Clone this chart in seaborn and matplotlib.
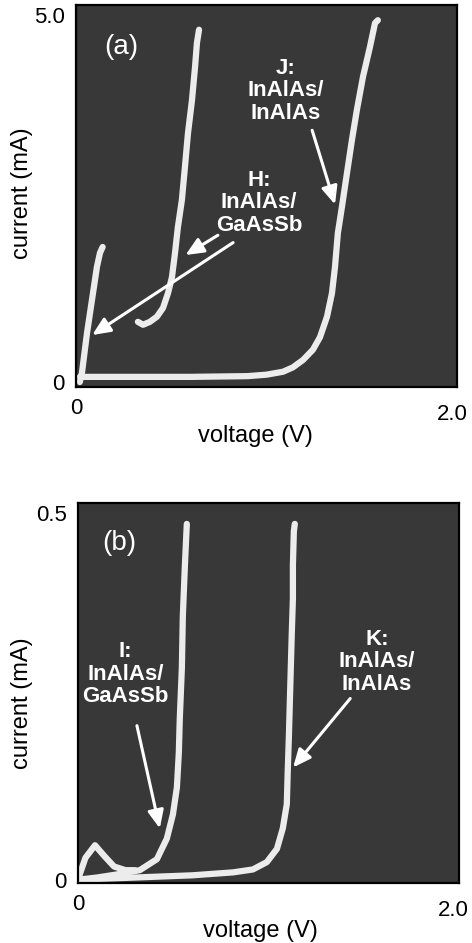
import numpy as np
import pandas as pd
import matplotlib
matplotlib.use("Agg")
import matplotlib.pyplot as plt
import matplotlib.transforms as mtransforms
import seaborn as sns

# ---------------- data ----------------
# Panel (a): current in mA, voltage in V
J_a_V = [0.02, 0.30, 0.60, 0.90, 1.00, 1.087, 1.139, 1.192, 1.244, 1.281, 1.318,
         1.344, 1.360, 1.375, 1.396, 1.423, 1.449, 1.475, 1.507, 1.543, 1.570, 1.585]
J_a_I = [0.07, 0.07, 0.07, 0.08, 0.10, 0.14, 0.20, 0.30, 0.44, 0.61, 0.89,
         1.21, 1.57, 2.03, 2.38, 2.85, 3.30, 3.71, 4.16, 4.56, 4.89, 4.93]

H1_a_V = [0.02, 0.031, 0.058, 0.084, 0.110, 0.126, 0.140]
H1_a_I = [0.00, 0.12, 0.67, 1.12, 1.57, 1.76, 1.84]

H2_a_V = [0.325, 0.352, 0.388, 0.425, 0.457, 0.483, 0.504, 0.520, 0.535,
          0.556, 0.572, 0.588, 0.609, 0.625, 0.635, 0.646]
H2_a_I = [0.82, 0.78, 0.82, 0.89, 1.01, 1.21, 1.43, 1.76, 2.11,
          2.48, 2.93, 3.39, 3.84, 4.29, 4.62, 4.80]

# Panel (b)
I_loop_V = [0.00, 0.04, 0.09, 0.14, 0.19, 0.25, 0.30]
I_loop_I = [0.000, 0.030, 0.047, 0.032, 0.018, 0.013, 0.013]

I_b_V = [0.00, 0.10, 0.20, 0.325, 0.415, 0.467, 0.499, 0.520, 0.530, 0.535,
         0.546, 0.551, 0.562, 0.572]
I_b_I = [0.000, 0.003, 0.007, 0.013, 0.028, 0.056, 0.089, 0.126, 0.173, 0.219,
         0.289, 0.359, 0.429, 0.485]

K_b_V = [0.00, 0.30, 0.60, 0.814, 0.919, 0.992, 1.045, 1.076, 1.097, 1.102,
         1.108, 1.113, 1.118, 1.123, 1.129, 1.129, 1.134, 1.139]
K_b_I = [0.000, 0.003, 0.006, 0.010, 0.014, 0.024, 0.042, 0.070, 0.103, 0.149,
         0.196, 0.243, 0.289, 0.335, 0.383, 0.429, 0.475, 0.485]

xticks = [0, 2.0]
xtick_labels = ["0", "2.0"]
yticks_a = [0, 5.0]
ytick_labels_a = ["0", "5.0"]
yticks_b = [0, 0.5]
ytick_labels_b = ["0", "0.5"]

# ---------------- styling ----------------
sns.set_theme(style="white")
plt.rcParams["font.family"] = ["Liberation Sans", "DejaVu Sans"]

BG = "#383838"
CURVE = "#ececec"
FS_TICK = 16
FS_LAB = 17
FS_ANN = 16

fig = plt.figure(figsize=(4.72, 9.43), dpi=100)
fig.patch.set_facecolor("white")

ax_a = fig.add_axes([0.161, 0.5896, 0.807, 0.405])
ax_b = fig.add_axes([0.165, 0.0636, 0.807, 0.403])


def seg_df(segs):
    rows = []
    for k, (vv, ii) in enumerate(segs):
        for v, i in zip(vv, ii):
            rows.append({"V": v, "I": i, "seg": k})
    return pd.DataFrame(rows)


def draw(ax, segs, ylim, yticks, ylabels):
    ax.set_facecolor(BG)
    df = seg_df(segs)
    sns.lineplot(data=df, x="V", y="I", units="seg", estimator=None, sort=False,
                 color=CURVE, lw=4.5, ax=ax, legend=False,
                 solid_capstyle="round", solid_joinstyle="round")
    ax.set_xlim(0, 2.0)
    ax.set_ylim(*ylim)
    ax.set_xticks(xticks, xtick_labels)
    ax.set_yticks(yticks, ylabels)
    ax.tick_params(axis="both", length=0, labelsize=FS_TICK, colors="black")
    ax.tick_params(axis="x", pad=8)
    ax.tick_params(axis="y", pad=8)
    for s in ax.spines.values():
        s.set_color("black")
        s.set_linewidth(1.6)
    ax.set_xlabel("voltage (V)", fontsize=FS_LAB, color="black")
    ax.set_ylabel("current (mA)", fontsize=FS_LAB, color="black")
    ax.grid(False)


draw(ax_a, [(J_a_V, J_a_I), (H1_a_V, H1_a_I), (H2_a_V, H2_a_I)],
     (-0.068, 5.136), yticks_a, ytick_labels_a)
draw(ax_b, [(I_loop_V, I_loop_I), (I_b_V, I_b_I), (K_b_V, K_b_I)],
     (-0.0045, 0.5135), yticks_b, ytick_labels_b)

ax_a.xaxis.set_label_coords(0.472, -0.099)
ax_a.yaxis.set_label_coords(-0.113, 0.508)
ax_b.xaxis.set_label_coords(0.478, -0.098)
ax_b.yaxis.set_label_coords(-0.118, 0.474)

# shift the "2.0" tick labels slightly lower/left like the scan
shift = mtransforms.ScaledTranslation(-5 / 100, -6 / 100, fig.dpi_scale_trans)
for ax in (ax_a, ax_b):
    lab = ax.get_xticklabels()[1]
    lab.set_transform(lab.get_transform() + shift)

TXT = dict(color="white", fontsize=FS_ANN, ha="center", va="center",
           linespacing=1.1, fontweight="bold")
ARW = dict(arrowstyle="-|>,head_length=0.9,head_width=0.4", color="white",
           lw=2.2, shrinkA=0, shrinkB=0)

# panel (a) annotations
ax_a.text(0.24, 4.56, "(a)", color="white", fontsize=20, ha="center", va="center")
ax_a.text(1.10, 3.97, "J:\nInAlAs/\nInAlAs", **TXT)
ax_a.annotate("", xy=(1.36, 2.42), xytext=(1.24, 3.43), arrowprops=ARW)
ax_a.text(0.96, 2.44, "H:\nInAlAs/\nGaAsSb", **TXT)
ax_a.annotate("", xy=(0.085, 0.64), xytext=(0.825, 1.90), arrowprops=ARW)
ax_a.annotate("", xy=(0.575, 1.73), xytext=(0.745, 2.00), arrowprops=ARW)

# panel (b) annotations
ax_b.text(0.22, 0.459, "(b)", color="white", fontsize=20, ha="center", va="center")
ax_b.text(0.25, 0.280, "I:\nInAlAs/\nGaAsSb", **TXT)
ax_b.annotate("", xy=(0.43, 0.070), xytext=(0.31, 0.210), arrowprops=ARW)
ax_b.text(1.57, 0.297, "K:\nInAlAs/\nInAlAs", **TXT)
ax_b.annotate("", xy=(1.13, 0.153), xytext=(1.43, 0.247), arrowprops=ARW)

fig.savefig("out.png", dpi=100, facecolor="white")
